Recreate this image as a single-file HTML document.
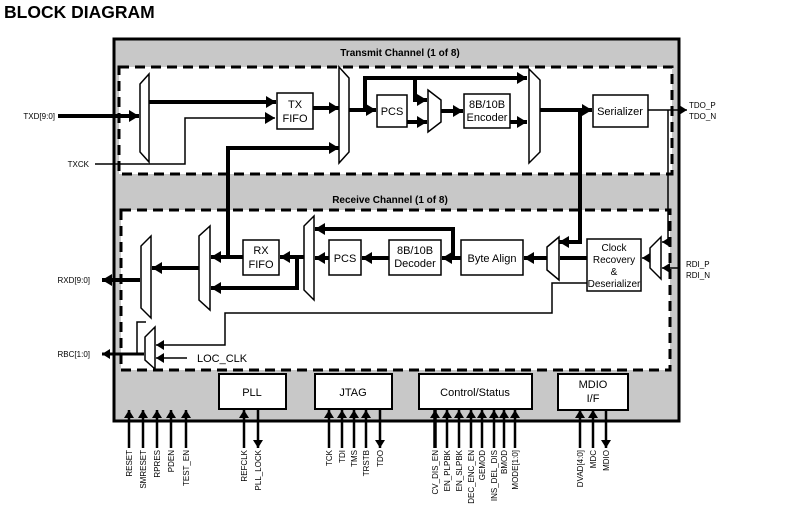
<!DOCTYPE html>
<html><head><meta charset="utf-8"><style>
html,body{margin:0;padding:0;background:#fff;}
svg{display:block;font-family:"Liberation Sans",Arial,sans-serif;}
</style></head><body>
<svg width="788" height="512" viewBox="0 0 788 512" xmlns="http://www.w3.org/2000/svg">
<defs>
<marker id="a" markerUnits="userSpaceOnUse" markerWidth="12" markerHeight="12" refX="10" refY="6" orient="auto">
<path d="M0,0 L10,6 L0,12 Z" fill="#000"/></marker>
<marker id="s" markerUnits="userSpaceOnUse" markerWidth="10" markerHeight="10" refX="8" refY="5" orient="auto">
<path d="M0,0 L8,5 L0,10 Z" fill="#000"/></marker>
</defs>
<text x="4" y="18" font-size="17.5" font-weight="bold">BLOCK DIAGRAM</text>
<rect x="114" y="39" width="565" height="382" fill="#c8c8c8" stroke="#000" stroke-width="3"/>
<rect x="119" y="67" width="553" height="107" fill="#fff" stroke="#000" stroke-width="3" stroke-dasharray="10,6"/>
<rect x="121" y="210" width="549" height="160" fill="#fff" stroke="#000" stroke-width="3" stroke-dasharray="10,6"/>
<text x="400" y="56" font-size="10" font-weight="bold" text-anchor="middle">Transmit Channel  (1 of  8)</text>
<text x="390" y="203" font-size="10" font-weight="bold" text-anchor="middle">Receive Channel  (1 of  8)</text>

<g fill="none" stroke="#000">
<g stroke-width="4">
<line x1="58" y1="116" x2="139" y2="116" marker-end="url(#a)"/>
<line x1="149" y1="102" x2="276" y2="102" marker-end="url(#a)"/>
<line x1="313" y1="108" x2="339" y2="108" marker-end="url(#a)"/>
<polyline points="228,257 228,148 339,148" marker-end="url(#a)"/>
<line x1="349" y1="110" x2="376" y2="110" marker-end="url(#a)"/>
<polyline points="365,110 365,78 527,78" marker-end="url(#a)"/>
<polyline points="415,78 415,100 427,100" marker-end="url(#a)"/>
<line x1="407" y1="122" x2="427" y2="122" marker-end="url(#a)"/>
<line x1="441" y1="111" x2="463" y2="111" marker-end="url(#a)"/>
<line x1="510" y1="122" x2="527" y2="122" marker-end="url(#a)"/>
<line x1="540" y1="110" x2="592" y2="110" marker-end="url(#a)"/>
<polyline points="580,110 580,242 559,242" marker-end="url(#a)"/>
</g>
<g stroke-width="1.5">
<polyline points="95,164 185,164 185,118 275,118" marker-end="url(#a)"/>
<line x1="648" y1="110" x2="687" y2="110" marker-end="url(#s)"/>
<polyline points="668,110 668,242 662,242" marker-end="url(#s)"/>
<line x1="680" y1="268" x2="662" y2="268" marker-end="url(#s)"/>
<line x1="650" y1="258" x2="642" y2="258" marker-end="url(#s)"/>
<polyline points="587,283 552,283 552,313 225,313 225,345 156,345" marker-end="url(#s)"/>
<line x1="187" y1="358" x2="156" y2="358" marker-end="url(#s)"/>
<polyline points="137,354 137,322 146,322"/>
</g>
<g stroke-width="4">
<line x1="587" y1="258" x2="560" y2="258"/>
<line x1="547" y1="258" x2="524" y2="258" marker-end="url(#a)"/>
<line x1="461" y1="258" x2="442" y2="258" marker-end="url(#a)"/>
<polyline points="453,258 453,229 315,229" marker-end="url(#a)"/>
<line x1="389" y1="258" x2="362" y2="258" marker-end="url(#a)"/>
<line x1="329" y1="258" x2="315" y2="258" marker-end="url(#a)"/>
<line x1="304" y1="257" x2="280" y2="257" marker-end="url(#a)"/>
<polyline points="297,257 297,288 211,288" marker-end="url(#a)"/>
<line x1="243" y1="257" x2="211" y2="257" marker-end="url(#a)"/>
<line x1="199" y1="268" x2="152" y2="268" marker-end="url(#a)"/>
<line x1="140" y1="280" x2="102" y2="280" marker-end="url(#a)"/>
<line x1="144" y1="354" x2="102" y2="354" marker-end="url(#s)" stroke-width="3"/>
</g>
</g>

<g fill="#fff" stroke="#000" stroke-width="1.5">
<polygon points="140,84 149,74 149,162 140,152"/>
<polygon points="339,67 349,78 349,152 339,163"/>
<polygon points="428,90 441,100 441,122 428,132"/>
<polygon points="529,69 540,80 540,152 529,163"/>
<polygon points="661,237 650,248 650,268 661,279"/>
<polygon points="559,237 547,247 547,270 559,280"/>
<polygon points="314,216 304,226 304,290 314,300"/>
<polygon points="210,226 199,236 199,300 210,310"/>
<polygon points="151,236 141,246 141,308 151,318"/>
<polygon points="155,327 145,337 145,360 155,369"/>
</g>

<g fill="#fff" stroke="#000" stroke-width="1.5">
<rect x="277" y="93" width="36" height="36"/>
<rect x="377" y="95" width="30" height="32"/>
<rect x="464" y="94" width="46" height="34"/>
<rect x="593" y="95" width="55" height="32"/>
<rect x="587" y="239" width="54" height="52"/>
<rect x="461" y="240" width="62" height="35"/>
<rect x="389" y="240" width="52" height="35"/>
<rect x="329" y="240" width="32" height="35"/>
<rect x="243" y="240" width="36" height="35"/>
<rect x="219" y="374" width="67" height="35" stroke-width="2"/>
<rect x="315" y="374" width="77" height="35" stroke-width="2"/>
<rect x="419" y="374" width="113" height="35" stroke-width="2"/>
<rect x="558" y="374" width="70" height="36" stroke-width="2"/>
</g>

<g font-size="11" text-anchor="middle">
<text x="295" y="108">TX</text><text x="295" y="122">FIFO</text>
<text x="392" y="115">PCS</text>
<text x="487" y="108">8B/10B</text><text x="487" y="121">Encoder</text>
<text x="620" y="115">Serializer</text>
<text x="614" y="251" font-size="10">Clock</text>
<text x="614" y="263" font-size="10">Recovery</text>
<text x="614" y="275" font-size="10">&amp;</text>
<text x="614" y="287" font-size="10">Deserializer</text>
<text x="492" y="262">Byte Align</text>
<text x="415" y="254">8B/10B</text><text x="415" y="267">Decoder</text>
<text x="345" y="262">PCS</text>
<text x="261" y="254">RX</text><text x="261" y="268">FIFO</text>
<text x="252" y="396">PLL</text>
<text x="353" y="396">JTAG</text>
<text x="475" y="396">Control/Status</text>
<text x="593" y="388">MDIO</text><text x="593" y="402">I/F</text>
</g>
<text x="197" y="362" font-size="11">LOC_CLK</text>
<g font-size="8">
<text x="55" y="119" text-anchor="end">TXD[9:0]</text>
<text x="89" y="167" text-anchor="end">TXCK</text>
<text x="689" y="108">TDO_P</text><text x="689" y="119">TDO_N</text>
<text x="686" y="267">RDI_P</text><text x="686" y="278">RDI_N</text>
<text x="90" y="283" text-anchor="end">RXD[9:0]</text>
<text x="90" y="357" text-anchor="end">RBC[1:0]</text>
</g>

<g stroke="#000" stroke-width="2.5" fill="none">
<line x1="129" y1="448" x2="129" y2="410" marker-end="url(#s)"/>
<line x1="143" y1="448" x2="143" y2="410" marker-end="url(#s)"/>
<line x1="157" y1="448" x2="157" y2="410" marker-end="url(#s)"/>
<line x1="171" y1="448" x2="171" y2="410" marker-end="url(#s)"/>
<line x1="186" y1="448" x2="186" y2="410" marker-end="url(#s)"/>
<line x1="244" y1="448" x2="244" y2="410" marker-end="url(#s)"/>
<line x1="258" y1="410" x2="258" y2="448" marker-end="url(#s)"/>
<line x1="329" y1="448" x2="329" y2="410" marker-end="url(#s)"/>
<line x1="342" y1="448" x2="342" y2="410" marker-end="url(#s)"/>
<line x1="354" y1="448" x2="354" y2="410" marker-end="url(#s)"/>
<line x1="366" y1="448" x2="366" y2="410" marker-end="url(#s)"/>
<line x1="380" y1="410" x2="380" y2="448" marker-end="url(#s)"/>
<line x1="435" y1="448" x2="435" y2="410" marker-end="url(#s)" stroke-width="3.5"/>
<line x1="447" y1="448" x2="447" y2="410" marker-end="url(#s)"/>
<line x1="459" y1="448" x2="459" y2="410" marker-end="url(#s)"/>
<line x1="471" y1="448" x2="471" y2="410" marker-end="url(#s)"/>
<line x1="482" y1="448" x2="482" y2="410" marker-end="url(#s)"/>
<line x1="494" y1="448" x2="494" y2="410" marker-end="url(#s)"/>
<line x1="504" y1="448" x2="504" y2="410" marker-end="url(#s)"/>
<line x1="515" y1="448" x2="515" y2="410" marker-end="url(#s)"/>
<line x1="580" y1="448" x2="580" y2="410" marker-end="url(#s)"/>
<line x1="593" y1="448" x2="593" y2="410" marker-end="url(#s)"/>
<line x1="606" y1="410" x2="606" y2="448" marker-end="url(#s)"/>
</g>
<g font-size="8" text-anchor="end">
<text transform="translate(132,450) rotate(-90)">RESET</text>
<text transform="translate(146,450) rotate(-90)">SMRESET</text>
<text transform="translate(160,450) rotate(-90)">RPRES</text>
<text transform="translate(174,450) rotate(-90)">PDEN</text>
<text transform="translate(189,450) rotate(-90)">TEST_EN</text>
<text transform="translate(247,450) rotate(-90)">REFCLK</text>
<text transform="translate(261,450) rotate(-90)">PLL_LOCK</text>
<text transform="translate(332,450) rotate(-90)">TCK</text>
<text transform="translate(345,450) rotate(-90)">TDI</text>
<text transform="translate(357,450) rotate(-90)">TMS</text>
<text transform="translate(369,450) rotate(-90)">TRSTB</text>
<text transform="translate(383,450) rotate(-90)">TDO</text>
<text transform="translate(438,450) rotate(-90)">CV_DIS_EN</text>
<text transform="translate(450,450) rotate(-90)">EN_PLPBK</text>
<text transform="translate(462,450) rotate(-90)">EN_SLPBK</text>
<text transform="translate(474,450) rotate(-90)">DEC_ENC_EN</text>
<text transform="translate(485,450) rotate(-90)">GEMOD</text>
<text transform="translate(497,450) rotate(-90)">INS_DEL_DIS</text>
<text transform="translate(507,450) rotate(-90)">BMOD</text>
<text transform="translate(518,450) rotate(-90)">MODE[1:0]</text>
<text transform="translate(583,450) rotate(-90)">DVAD[4:0]</text>
<text transform="translate(596,450) rotate(-90)">MDC</text>
<text transform="translate(609,450) rotate(-90)">MDIO</text>
</g>
</svg>
</body></html>
